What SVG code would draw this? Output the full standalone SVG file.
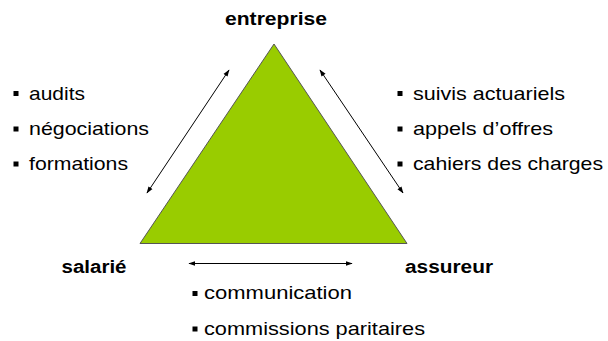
<svg xmlns="http://www.w3.org/2000/svg" width="608" height="341" viewBox="0 0 608 341">
  <defs>
    <marker id="arrow" viewBox="0 0 10 10" refX="9" refY="5" markerWidth="7" markerHeight="7" markerUnits="userSpaceOnUse" orient="auto-start-reverse">
      <path d="M0,1.5 L10,5 L0,8.5 Z" fill="#000"/>
    </marker>
    <style>
      text { font-family: "Liberation Sans", Arial, sans-serif; fill: #000; }
      .title { font-size: 18px; font-weight: bold; }
      .item { font-size: 18.5px; }
      .bullet { fill: #000; }
      .link { stroke: #000; stroke-width: 1; fill: none; marker-start: url(#arrow); marker-end: url(#arrow); }
    </style>
  </defs>
  <rect width="608" height="341" fill="#fff"/>

  <!-- central triangle -->
  <g id="triangle">
    <polygon points="274,44 140,243.5 407,243.5" fill="#99CC00" stroke="#555" stroke-width="1"/>
  </g>

  <!-- corner labels -->
  <g id="entreprise">
    <text class="title" x="225" y="24.5" textLength="102" lengthAdjust="spacingAndGlyphs">entreprise</text>
  </g>
  <g id="salarie">
    <text class="title" x="61.5" y="272.5" textLength="65" lengthAdjust="spacingAndGlyphs">salarié</text>
  </g>
  <g id="assureur">
    <text class="title" x="405" y="273" textLength="88" lengthAdjust="spacingAndGlyphs">assureur</text>
  </g>

  <!-- connectors along the sides -->
  <g id="connectors">
    <line class="link" x1="147" y1="193" x2="229" y2="70"/>
    <line class="link" x1="320" y1="70" x2="403" y2="193"/>
    <line class="link" x1="189" y1="263.5" x2="352" y2="263.5"/>
  </g>

  <!-- entreprise / salarié -->
  <g id="list-left">
    <rect class="bullet" x="13.5" y="91" width="5" height="5"/>
    <text class="item" x="29" y="99.5" textLength="56" lengthAdjust="spacingAndGlyphs">audits</text>
    <rect class="bullet" x="13.5" y="126.5" width="5" height="5"/>
    <text class="item" x="29" y="135" textLength="120" lengthAdjust="spacingAndGlyphs">négociations</text>
    <rect class="bullet" x="13.5" y="161.5" width="5" height="5"/>
    <text class="item" x="29" y="170" textLength="99" lengthAdjust="spacingAndGlyphs">formations</text>
  </g>

  <!-- entreprise / assureur -->
  <g id="list-right">
    <rect class="bullet" x="397.5" y="91" width="5" height="5"/>
    <text class="item" x="413" y="99.5" textLength="152" lengthAdjust="spacingAndGlyphs">suivis actuariels</text>
    <rect class="bullet" x="397.5" y="126.5" width="5" height="5"/>
    <text class="item" x="413" y="135" textLength="140" lengthAdjust="spacingAndGlyphs">appels d’offres</text>
    <rect class="bullet" x="397.5" y="161.5" width="5" height="5"/>
    <text class="item" x="413" y="170" textLength="190" lengthAdjust="spacingAndGlyphs">cahiers des charges</text>
  </g>

  <!-- salarié / assureur -->
  <g id="list-bottom">
    <rect class="bullet" x="192.5" y="291" width="5" height="5"/>
    <text class="item" x="204" y="299" textLength="148" lengthAdjust="spacingAndGlyphs">communication</text>
    <rect class="bullet" x="192.5" y="326.5" width="5" height="5"/>
    <text class="item" x="204" y="334.5" textLength="221" lengthAdjust="spacingAndGlyphs">commissions paritaires</text>
  </g>
</svg>
